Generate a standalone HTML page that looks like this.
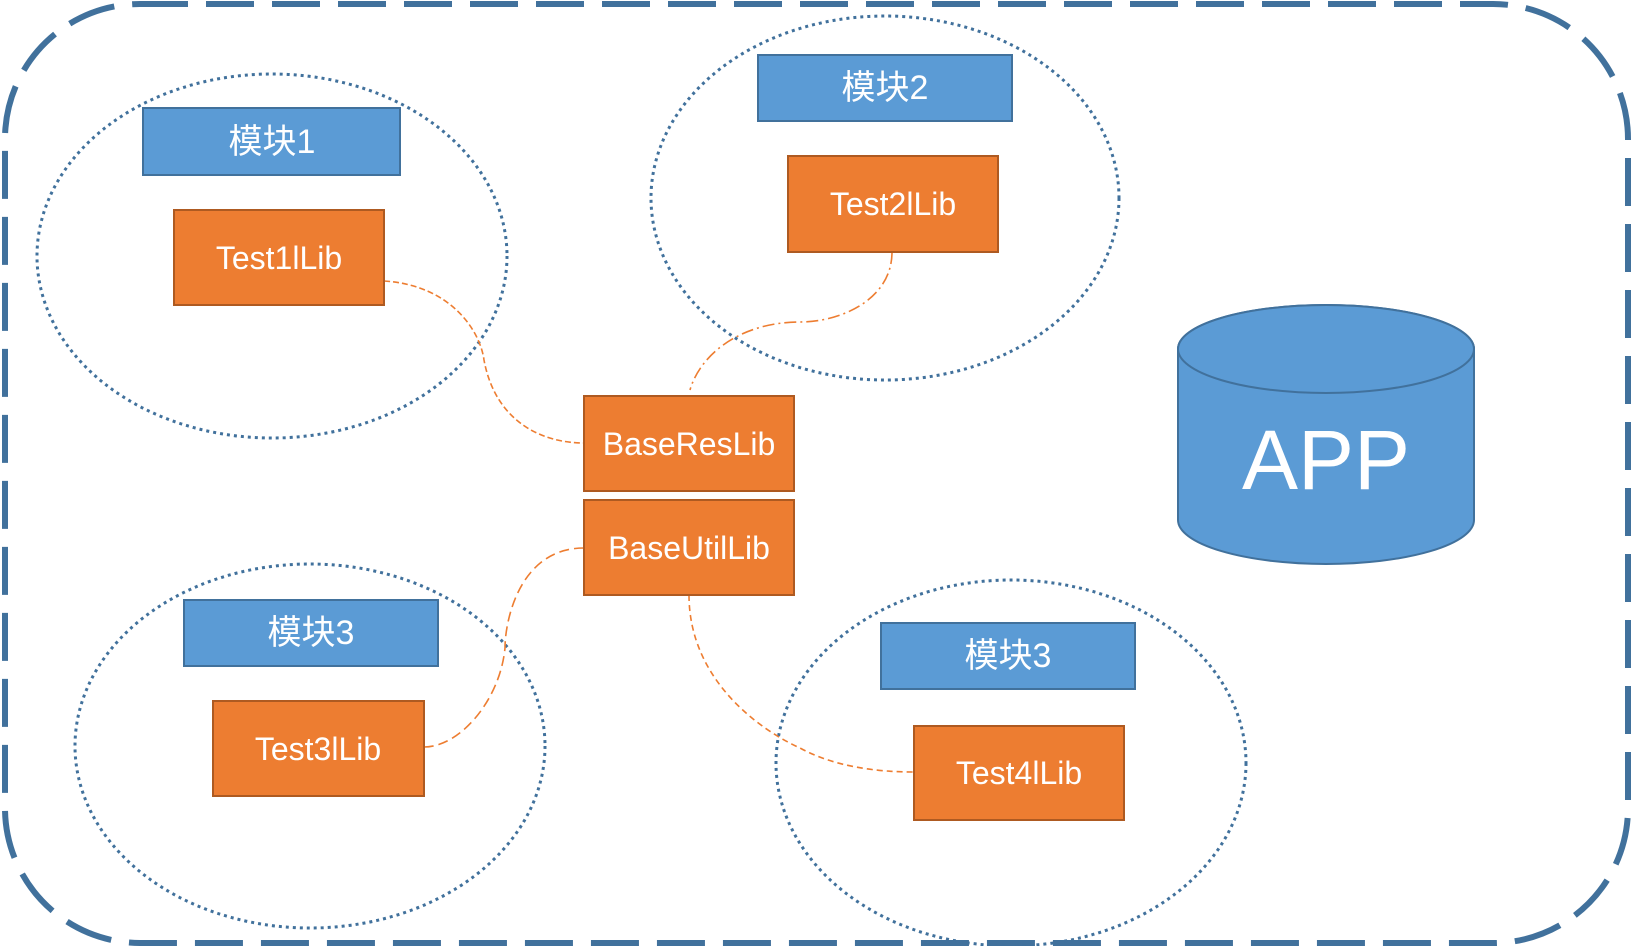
<!DOCTYPE html>
<html><head><meta charset="utf-8"><style>
html,body{margin:0;padding:0;background:#fff;}
svg{display:block}
text{font-family:"Liberation Sans","Noto Sans CJK SC",sans-serif;fill:#fff;text-anchor:middle;dominant-baseline:central}
</style></head><body>
<svg width="1632" height="946" viewBox="0 0 1632 946">
<rect x="5" y="4" width="1623" height="939" rx="135" fill="none" stroke="#41719c" stroke-width="6" stroke-dasharray="48,18"/>
<g fill="none" stroke="#41719c" stroke-width="3" stroke-dasharray="3,4">
<ellipse cx="272" cy="256" rx="235" ry="182"/>
<ellipse cx="885" cy="198" rx="234" ry="182"/>
<ellipse cx="310" cy="746" rx="235" ry="182"/>
<ellipse cx="1011" cy="763" rx="235" ry="183"/>
</g>
<g fill="none" stroke="#ed7d31" stroke-width="1.6">
<path d="M384,281 C450,285 480,330 484,360 C495,420 540,443 584,443" stroke-dasharray="6,3"/>
<path d="M892,252 C892,300 840,322 800,322 C740,322 700,355 690,390" stroke-dasharray="12,4,2,4"/>
<path d="M584,548 C520,548 505,620 505,648 C500,700 460,747 424,747" stroke-dasharray="10,5"/>
<path d="M689,595 C689,680 760,730 800,748 C840,770 890,772 914,772" stroke-dasharray="6,4"/>
</g>
<g stroke="#41719c" stroke-width="2" fill="#5b9bd5">
<rect x="143" y="108" width="257" height="67"/>
<rect x="758" y="55" width="254" height="66"/>
<rect x="184" y="600" width="254" height="66"/>
<rect x="881" y="623" width="254" height="66"/>
</g>
<g stroke="#ae5a21" stroke-width="2" fill="#ed7d31">
<rect x="174" y="210" width="210" height="95"/>
<rect x="788" y="156" width="210" height="96"/>
<rect x="584" y="396" width="210" height="95"/>
<rect x="584" y="500" width="210" height="95"/>
<rect x="213" y="701" width="211" height="95"/>
<rect x="914" y="726" width="210" height="94"/>
</g>
<g font-size="34">
<text x="272" y="142">模块1</text>
<text x="885" y="88">模块2</text>
<text x="311" y="633">模块3</text>
<text x="1008" y="656">模块3</text>
</g>
<g font-size="32">
<text x="279" y="258">Test1lLib</text>
<text x="893" y="204">Test2lLib</text>
<text x="689" y="444">BaseResLib</text>
<text x="689" y="548">BaseUtilLib</text>
<text x="318" y="749">Test3lLib</text>
<text x="1019" y="773">Test4lLib</text>
</g>
<path d="M1178,349 L1178,520 A148,44 0 0 0 1474,520 L1474,349 A148,44 0 0 0 1178,349 Z" fill="#5b9bd5" stroke="#41719c" stroke-width="2"/>
<ellipse cx="1326" cy="349" rx="148" ry="44" fill="#5b9bd5" stroke="#41719c" stroke-width="2"/>
<text x="1326" y="460" font-size="84">APP</text>
</svg>
</body></html>
